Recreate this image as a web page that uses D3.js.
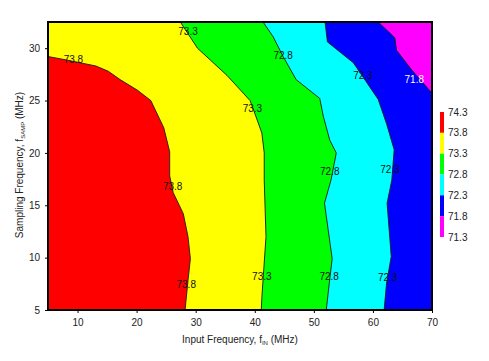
<!DOCTYPE html>
<html><head><meta charset="utf-8">
<script src="https://cdn.jsdelivr.net/npm/d3@7"></script>
<style>body{margin:0;background:#fff;}svg{display:block;font-family:Arial,"Liberation Sans",sans-serif;}</style>
</head><body>
<svg id="c" width="489" height="361"></svg>
<script>
// Contour levels (SNR, dBFS) and fill colours between them
const levels = [74.3, 73.8, 73.3, 72.8, 72.3, 71.8, 71.3];
const bandColors = ["#ff0000", "#ffff00", "#00ff00", "#00ffff", "#0000ff", "#ff00ff"];
const xTicks = [10, 20, 30, 40, 50, 60, 70];
const yTicks = [5, 10, 15, 20, 25, 30];

// Contour lines: [fIN MHz, fSAMP MHz]
const line738 = [[5,29.2],[7.9,28.9],[13.1,28.3],[15.2,27.8],[17.2,27.0],[20.1,26.0],[22.4,25.0],[24.6,22.4],[25.6,20.1],[25.6,17.8],[26.2,16.2],[27.9,14.2],[28.7,12.0],[29.1,9.9],[28.7,7.8],[28.2,5]];
const line733 = [[27.4,32.5],[30.3,30.0],[35.3,27.4],[39.2,25.0],[39.8,24.1],[41.2,21.9],[41.6,20.0],[41.6,17.4],[41.9,12.0],[41.2,6.2],[41.1,5]];
const line728 = [[41.4,32.5],[43.1,31.1],[44.8,29.2],[47.0,27.0],[51.0,25.2],[51.6,23.5],[52.7,21.2],[53.8,20.0],[52.9,17.4],[51.8,15.2],[53.1,9.9],[52.6,7.5],[52.1,5]];
const line723 = [[51.9,32.5],[52.3,30.6],[56.7,28.6],[60.9,25.1],[62.3,22.8],[63.6,20.3],[63.2,17.4],[62.4,15.2],[63.1,10.1],[62.3,7.5],[61.9,5]];
const line718 = [[60.9,32.5],[63.7,31.0],[64.0,29.8],[66.6,27.9],[70,25.7]];
const contourLines = [line738, line733, line728, line723, line718];

// Contour labels: [fIN, fSAMP, text]
const labels = [
  [9.3,28.9,"73.8"],[26.1,16.8,"73.8"],[28.4,7.4,"73.8"],
  [28.7,31.6,"73.3"],[39.6,24.2,"73.3"],[41.2,8.2,"73.3"],
  [44.8,29.3,"72.8"],[52.7,18.2,"72.8"],[52.6,8.2,"72.8"],
  [58.3,27.4,"72.3"],[62.9,18.4,"72.3"],[62.5,8.1,"72.3"],
  [67.0,27.0,"71.8"]
];

const xDomain = [5, 70], yDomain = [5, 32.5];
const svg = d3.select("#c");
const L = 48, R = 432, T = 22, B = 310;
const x = d3.scaleLinear().domain(xDomain).range([L, R]);
const y = d3.scaleLinear().domain(yDomain).range([B, T]);

const g = svg.append("g");
g.append("defs").append("clipPath").attr("id","clip").append("rect")
  .attr("x", L).attr("y", T).attr("width", R - L).attr("height", B - T);
const plot = g.append("g").attr("clip-path","url(#clip)");

plot.append("rect").attr("x", L).attr("y", T).attr("width", R - L).attr("height", B - T)
  .attr("fill", bandColors[0]);

const lineGen = d3.line().x(d => x(d[0])).y(d => y(d[1]));
contourLines.forEach((ln, i) => {
  const poly = ln.concat([[xDomain[1], yDomain[0]], [xDomain[1], yDomain[1]], [xDomain[0], yDomain[1]]]);
  plot.append("path").attr("d", lineGen(poly) + "Z").attr("fill", bandColors[i + 1]);
});
contourLines.forEach(ln => {
  plot.append("path").attr("d", lineGen(ln)).attr("fill","none")
    .attr("stroke","#1a1a1a").attr("stroke-width",0.9);
});

plot.selectAll("text.cl").data(labels).enter().append("text")
  .attr("x", d => x(d[0])).attr("y", d => y(d[1])).attr("dy","0.35em")
  .attr("text-anchor","middle").attr("font-size","10px")
  .attr("fill", d => d[2] === "71.8" ? "#ffffff" : "#111")
  .text(d => d[2]);

// frame
g.append("rect").attr("x", L).attr("y", T).attr("width", R - L).attr("height", B - T)
  .attr("fill","none").attr("stroke","#000").attr("stroke-width",2);

// axes
const xAxis = g.append("g").attr("transform", `translate(0,${B})`)
  .call(d3.axisBottom(x).tickValues(xTicks).tickSize(3).tickPadding(6));
const yAxis = g.append("g").attr("transform", `translate(${L},0)`)
  .call(d3.axisLeft(y).tickValues(yTicks).tickSize(3).tickPadding(5));
[xAxis, yAxis].forEach(a => {
  a.select(".domain").remove();
  a.selectAll("line").attr("stroke","#000");
  a.selectAll("text").attr("font-size","10px").attr("fill","#222").attr("font-family","Arial, 'Liberation Sans', sans-serif");
});

// axis titles
const xt = g.append("text").attr("x", 240).attr("y", 343).attr("text-anchor","middle")
  .attr("font-size","10px").attr("fill","#222");
xt.append("tspan").text("Input Frequency, f");
xt.append("tspan").attr("font-size","6px").attr("dy","1.5").text("IN");
xt.append("tspan").attr("dy","-1.5").text(" (MHz)");

const yt = g.append("text").attr("transform","translate(23,165) rotate(-90)")
  .attr("text-anchor","middle").attr("font-size","10px").attr("fill","#222");
yt.append("tspan").text("Sampling Frequency, f");
yt.append("tspan").attr("font-size","6px").attr("dy","1.5").text("SAMP");
yt.append("tspan").attr("dy","-1.5").text(" (MHz)");

// legend colour bar
const ly = d3.scaleLinear().domain([levels[0], levels[levels.length - 1]]).range([112, 237]);
const leg = g.append("g");
bandColors.forEach((c, i) => {
  leg.append("rect").attr("x", 440).attr("y", ly(levels[i])).attr("width", 4)
    .attr("height", ly(levels[i + 1]) - ly(levels[i])).attr("fill", c);
});
leg.selectAll("text").data(levels).enter().append("text")
  .attr("x", 448).attr("y", d => ly(d)).attr("dy","0.35em")
  .attr("font-size","10px").attr("fill","#222").text(d => d.toFixed(1));
</script>
</body></html>
